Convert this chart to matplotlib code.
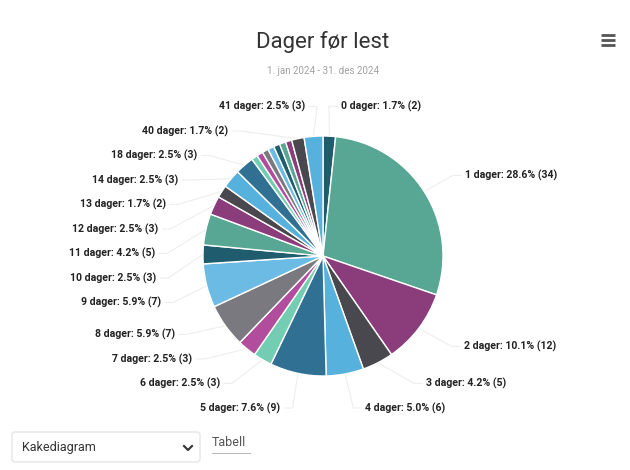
import matplotlib.pyplot as plt
import numpy as np
from matplotlib.patches import FancyBboxPatch

plt.rcParams['font.family'] = ['Roboto', 'DejaVu Sans']

# Dager før lest (antall bøker)
days = ['0', '1', '2', '3', '4', '5', '6', '7', '8', '9', '10', '11', '12', '13', '14', '18',
        '20', '22', '23', '25', '28', '31', '35', '40', '41']
counts = [2, 34, 12, 5, 6, 9, 3, 3, 7, 7, 3, 5, 3, 2, 3, 3,
          1, 1, 1, 1, 1, 1, 1, 2, 3]
# the small (1) slices have no visible label in the original
palette = ['#1f5d6e', '#58a794', '#8a3c7b', '#48484e', '#56b1dc',
           '#2f7093', '#72cdb2', '#b14d9c', '#7a797f', '#6cbbe4']

title = 'Dager før lest'
subtitle = '1. jan 2024 - 31. des 2024'

total = sum(counts)
colors = [palette[i % len(palette)] for i in range(len(counts))]

fig = plt.figure(figsize=(6.3, 4.7), dpi=100)
ax = fig.add_axes([0, 0, 1, 1])

cx, cy_s, r = 323, 256, 120
cy = 470 - cy_s
wedges, _ = ax.pie(counts, colors=colors, startangle=90, counterclock=False,
                   center=(cx, cy), radius=r,
                   wedgeprops=dict(edgecolor='white', linewidth=1))
ax.set_xlim(0, 630)
ax.set_ylim(0, 470)
ax.axis('off')

# label positions, spread out like the original
R = 150
gap, top, bottom = 24.5, 104, 408
sides = {'left': [], 'right': []}
for i, w in enumerate(wedges):
    if counts[i] < 2:
        continue
    mid = np.deg2rad((w.theta1 + w.theta2) / 2)
    ys = cy_s - R * np.sin(mid)
    side = 'right' if np.cos(mid) >= 0 else 'left'
    sides[side].append([ys, i, mid])

for side, items in sides.items():
    items.sort(key=lambda t: t[0])
    ys = [t[0] for t in items]
    ys[0] = max(ys[0], top)
    for k in range(1, len(ys)):
        ys[k] = max(ys[k], ys[k - 1] + gap)
    ys[-1] = min(ys[-1], bottom)
    for k in range(len(ys) - 2, -1, -1):
        ys[k] = min(ys[k], ys[k + 1] - gap)
    sgn = 1 if side == 'right' else -1
    for (y0, i, mid), ys_k in zip(items, ys):
        dy = ys_k - cy_s - 4
        dx = np.sqrt(max(R ** 2 - dy ** 2, 0))
        xt = cx + sgn * (dx + 18)
        ex, ey = cx + r * np.cos(mid), cy + r * np.sin(mid)
        ax.plot([ex, cx + sgn * (dx + 6), xt - sgn * 4], [ey, 470 - ys_k, 470 - ys_k],
                color='#eeeeee', lw=0.8, zorder=0)
        pct = counts[i] / total * 100
        ax.text(xt, 470 - ys_k, f'{days[i]} dager: {pct:.1f}% ({counts[i]})',
                ha='left' if side == 'right' else 'right', va='center',
                fontsize=7.6, fontweight='bold', color='#222222')

# titles
ax.text(323, 470 - 42, title, ha='center', va='center', fontsize=16, color='#333333')
ax.text(323, 470 - 71, subtitle, ha='center', va='center', fontsize=7, color='#a0a0a0')

# menu icon
for yy in (35, 40, 45):
    ax.plot([601, 615], [470 - yy, 470 - yy], color='#555555', lw=2, solid_capstyle='butt')

# bottom controls
box = FancyBboxPatch((12, 470 - 462), 188, 30, boxstyle='round,pad=0,rounding_size=3',
                     fc='white', ec='#e6e6e6', lw=1)
ax.add_patch(box)
ax.text(22, 470 - 448, 'Kakediagram', ha='left', va='center', fontsize=9, color='#333333')
ax.plot([184, 188, 192], [470 - 446, 470 - 450, 470 - 446], color='#333333', lw=1.5)
ax.text(212, 470 - 443, 'Tabell', ha='left', va='center', fontsize=9, color='#555555')
ax.plot([212, 250], [470 - 453, 470 - 453], color='#bbbbbb', lw=0.8)

fig.savefig('out.png', dpi=100)
